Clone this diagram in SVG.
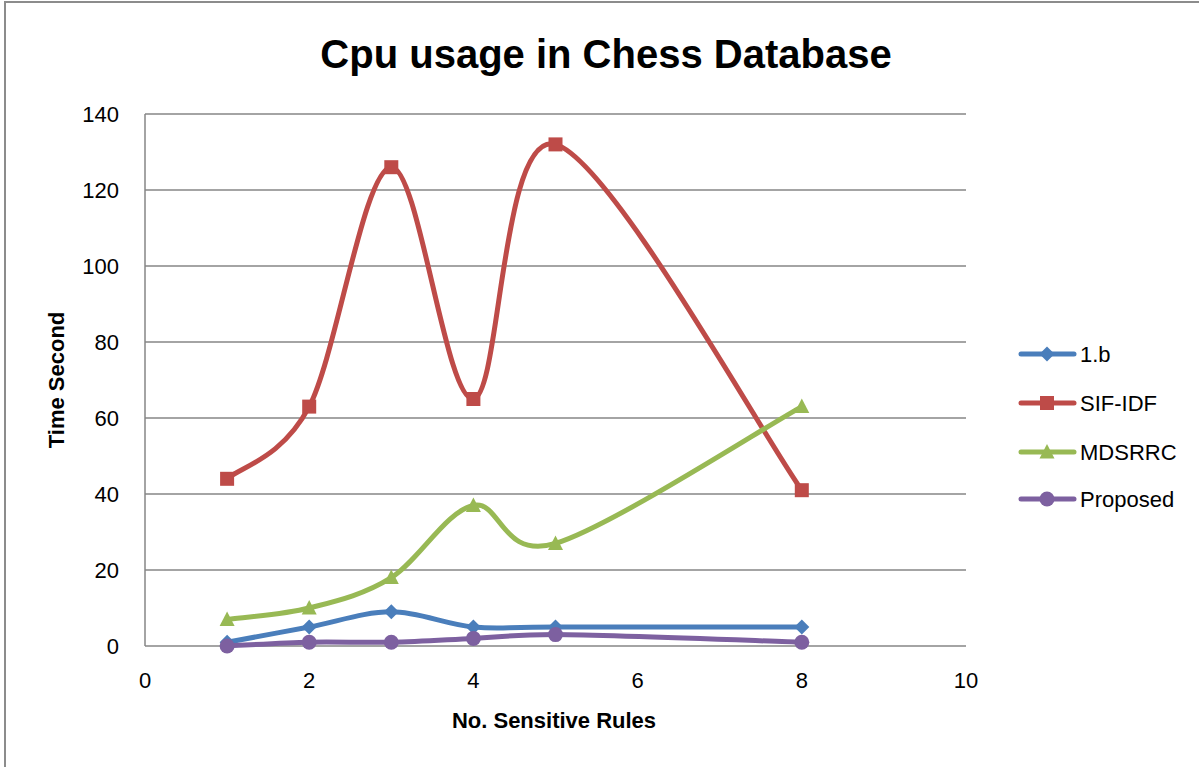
<svg xmlns="http://www.w3.org/2000/svg" width="1199" height="767" viewBox="0 0 1199 767">
  <style>
    .frame { fill: none; stroke: #8c8c8c; stroke-width: 2; }
    .grid { stroke: #868686; stroke-width: 1.5; fill: none; }
    .axis { stroke: #868686; stroke-width: 1.5; fill: none; }
    .tick { font-family: "Liberation Sans", Arial, sans-serif; font-size: 22px; fill: #000; }
    .ylab { text-anchor: end; }
    .xlab { text-anchor: middle; }
    .title { font-family: "Liberation Sans", Arial, sans-serif; font-size: 40px; font-weight: bold; text-anchor: middle; fill: #000; }
    .axtitle { font-family: "Liberation Sans", Arial, sans-serif; font-size: 22px; font-weight: bold; text-anchor: middle; fill: #000; }
    .legend { font-family: "Liberation Sans", Arial, sans-serif; font-size: 22px; fill: #000; }
    .line { fill: none; stroke-width: 5; stroke-linecap: round; stroke-linejoin: round; }
    .blue { stroke: #4a7ebb; }
    .red { stroke: #be4b48; }
    .green { stroke: #98b954; }
    .purple { stroke: #7d60a0; }
    .mblue { fill: #4a7ebb; }
    .mred { fill: #be4b48; }
    .mgreen { fill: #98b954; }
    .mpurple { fill: #7d60a0; }
  </style>
  <defs>
    <path id="diamond" d="M0,-7.5 L7.5,0 L0,7.5 L-7.5,0 Z"/>
    <rect id="square" x="-7" y="-7" width="14" height="14"/>
    <path id="triangle" d="M0,-8 L7.5,6.5 L-7.5,6.5 Z"/>
    <circle id="dot" r="7.5"/>
  </defs>

  <rect width="1199" height="767" fill="#ffffff"/>
  <path class="frame" d="M5,767 V2 H1199"/>

  <text class="title" x="606" y="68">Cpu usage in Chess Database</text>

  <!-- gridlines every 20 units -->
  <g id="gridlines">
    <line class="grid" x1="145" y1="114" x2="966" y2="114"/>
    <line class="grid" x1="145" y1="190" x2="966" y2="190"/>
    <line class="grid" x1="145" y1="266" x2="966" y2="266"/>
    <line class="grid" x1="145" y1="342" x2="966" y2="342"/>
    <line class="grid" x1="145" y1="418" x2="966" y2="418"/>
    <line class="grid" x1="145" y1="494" x2="966" y2="494"/>
    <line class="grid" x1="145" y1="570" x2="966" y2="570"/>
    <line class="axis" x1="145" y1="646" x2="966" y2="646"/>
    <line class="axis" x1="145" y1="114" x2="145" y2="646"/>
  </g>

  <g id="y-axis-labels" class="tick ylab">
    <text x="119" y="122">140</text>
    <text x="119" y="198">120</text>
    <text x="119" y="274">100</text>
    <text x="119" y="350">80</text>
    <text x="119" y="426">60</text>
    <text x="119" y="502">40</text>
    <text x="119" y="578">20</text>
    <text x="119" y="654">0</text>
  </g>

  <g id="x-axis-labels" class="tick xlab">
    <text x="145" y="688">0</text>
    <text x="309.2" y="688">2</text>
    <text x="473.4" y="688">4</text>
    <text x="637.6" y="688">6</text>
    <text x="801.8" y="688">8</text>
    <text x="966" y="688">10</text>
  </g>

  <text class="axtitle" x="554" y="728">No. Sensitive Rules</text>
  <text class="axtitle" transform="translate(64,380) rotate(-90)">Time Second</text>

  <g id="connectors">
    <g id="series-1b">
      <path class="line blue" d="M227.1,642.2 C240.8,639.7 281.8,632.1 309.2,627 C336.6,621.9 363.9,611.8 391.3,611.8 C418.7,611.8 446,624.5 473.4,627 C500.8,629.5 500.8,627 555.5,627 C610.2,627 760.8,627 801.8,627"/>
      <g class="mblue">
        <use href="#diamond" x="227.1" y="642.2"/>
        <use href="#diamond" x="309.2" y="627"/>
        <use href="#diamond" x="391.3" y="611.8"/>
        <use href="#diamond" x="473.4" y="627"/>
        <use href="#diamond" x="555.5" y="627"/>
        <use href="#diamond" x="801.8" y="627"/>
      </g>
    </g>
    <g id="series-sif-idf">
      <path class="line red" d="M227.1,478.8 C240.8,466.8 281.8,458.5 309.2,406.6 C336.6,354.7 363.9,168.5 391.3,167.2 C418.7,165.9 446,402.8 473.4,399 C500.8,395.2 500.8,129.2 555.5,144.4 C610.2,159.6 760.8,432.6 801.8,490.2"/>
      <g class="mred">
        <use href="#square" x="227.1" y="478.8"/>
        <use href="#square" x="309.2" y="406.6"/>
        <use href="#square" x="391.3" y="167.2"/>
        <use href="#square" x="473.4" y="399"/>
        <use href="#square" x="555.5" y="144.4"/>
        <use href="#square" x="801.8" y="490.2"/>
      </g>
    </g>
    <g id="series-mdsrrc">
      <path class="line green" d="M227.1,619.4 C240.8,617.5 281.8,615 309.2,608 C336.6,601 363.9,594.7 391.3,577.6 C418.7,560.5 446,511.1 473.4,505.4 C500.8,499.7 500.8,559.9 555.5,543.4 C610.2,526.9 760.8,429.4 801.8,406.6"/>
      <g class="mgreen">
        <use href="#triangle" x="227.1" y="619.4"/>
        <use href="#triangle" x="309.2" y="608"/>
        <use href="#triangle" x="391.3" y="577.6"/>
        <use href="#triangle" x="473.4" y="505.4"/>
        <use href="#triangle" x="555.5" y="543.4"/>
        <use href="#triangle" x="801.8" y="406.6"/>
      </g>
    </g>
    <g id="series-proposed">
      <path class="line purple" d="M227.1,646 C240.8,645.4 281.8,642.8 309.2,642.2 C336.6,641.6 363.9,642.8 391.3,642.2 C418.7,641.6 446,639.7 473.4,638.4 C500.8,637.1 500.8,635.2 555.5,634.6 C610.2,635.2 760.8,640.9 801.8,642.2"/>
      <g class="mpurple">
        <use href="#dot" x="227.1" y="646"/>
        <use href="#dot" x="309.2" y="642.2"/>
        <use href="#dot" x="391.3" y="642.2"/>
        <use href="#dot" x="473.4" y="638.4"/>
        <use href="#dot" x="555.5" y="634.6"/>
        <use href="#dot" x="801.8" y="642.2"/>
      </g>
    </g>
  </g>

  <g id="legend">
    <g id="legend-1b">
      <line class="line blue" x1="1021" y1="354" x2="1074" y2="354"/>
      <use class="mblue" href="#diamond" x="1047" y="354"/>
      <text class="legend" x="1080" y="362">1.b</text>
    </g>
    <g id="legend-sif-idf">
      <line class="line red" x1="1021" y1="403" x2="1074" y2="403"/>
      <use class="mred" href="#square" x="1047" y="403"/>
      <text class="legend" x="1080" y="411">SIF-IDF</text>
    </g>
    <g id="legend-mdsrrc">
      <line class="line green" x1="1021" y1="452" x2="1074" y2="452"/>
      <use class="mgreen" href="#triangle" x="1047" y="452"/>
      <text class="legend" x="1080" y="460">MDSRRC</text>
    </g>
    <g id="legend-proposed">
      <line class="line purple" x1="1021" y1="499" x2="1074" y2="499"/>
      <use class="mpurple" href="#dot" x="1047" y="499"/>
      <text class="legend" x="1080" y="507">Proposed</text>
    </g>
  </g>
</svg>
